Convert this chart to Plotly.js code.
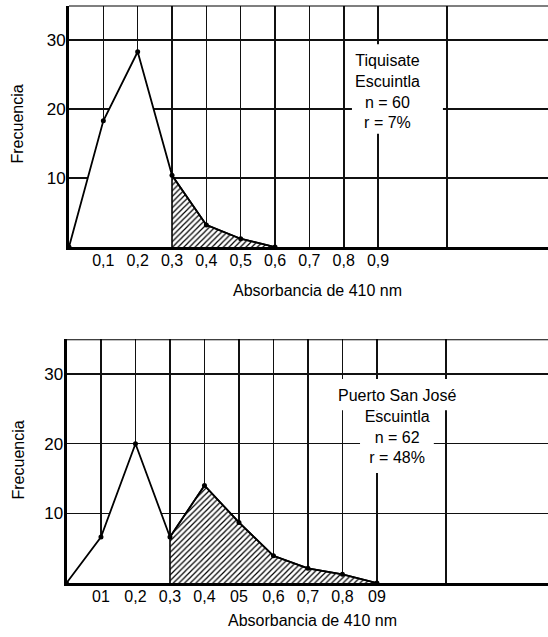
<!DOCTYPE html>
<html>
<head>
<meta charset="utf-8">
<script src="https://cdn.plot.ly/plotly-3.0.1.min.js"></script>
<style>html,body{margin:0;padding:0;background:#fff;}#chart{width:548px;height:637px;}</style>
</head>
<body>
<div id="chart"></div>
<script>
// ---- data ----
const absorbTop = [0, 0.1, 0.2, 0.3, 0.4, 0.5, 0.6];
const freqTop = [0, 18.3, 28.3, 10.4, 3.2, 1.2, 0];
const absorbBottom = [0, 0.1, 0.2, 0.3, 0.4, 0.5, 0.6, 0.7, 0.8, 0.9];
const freqBottom = [0, 6.6, 20, 6.6, 14, 8.7, 3.9, 2.1, 1.25, 0];
const hatchFrom = 0.3;
const xTickVals = [0.1, 0.2, 0.3, 0.4, 0.5, 0.6, 0.7, 0.8, 0.9, 1.1];
const xTickTextTop = ['0,1', '0,2', '0,3', '0,4', '0,5', '0,6', '0,7', '0,8', '0,9', ''];
const xTickTextBottom = ['01', '0,2', '0,3', '0,4', '05', '0,6', '0,7', '0,8', '09', ''];
const yTickVals = [10, 20, 30];
const yTickText = ['10', '20', '30'];
const xTitle = 'Absorbancia de 410 nm';
const yTitle = 'Frecuencia';
const labelTop = ['Tiquisate', 'Escuintla', 'n = 60', 'r = 7%'];
const labelBottom = ['Puerto San José', 'Escuintla', 'n = 62', 'r = 48%'];

const FONT = "'Liberation Sans', Arial, sans-serif";
const W = 548, H = 637;

function hatchPart(xs, ys) {
  const hx = [hatchFrom], hy = [0];
  xs.forEach((v, i) => { if (v >= hatchFrom - 1e-9) { hx.push(v); hy.push(ys[i]); } });
  return {x: hx, y: hy};
}

function tracesFor(xs, ys, xa, ya) {
  const h = hatchPart(xs, ys);
  return [
    {x: xs, y: ys, xaxis: xa, yaxis: ya, type: 'scatter', mode: 'lines',
     line: {width: 0, color: 'rgba(0,0,0,0)'}, fill: 'tozeroy', fillcolor: '#ffffff', hoverinfo: 'skip'},
    {x: h.x, y: h.y, xaxis: xa, yaxis: ya, type: 'scatter', mode: 'lines',
     line: {width: 1.6, color: '#000'}, fill: 'toself', fillcolor: '#ffffff',
     fillpattern: {shape: '/', fgcolor: '#000', bgcolor: '#fff', size: 4, solidity: 0.3}, hoverinfo: 'skip'},
    {x: xs, y: ys, xaxis: xa, yaxis: ya, type: 'scatter', mode: 'lines+markers',
     line: {width: 1.8, color: '#000'}, marker: {size: 5, color: '#000'}}
  ];
}

const data = [].concat(
  tracesFor(absorbTop, freqTop, 'x', 'y'),
  tracesFor(absorbBottom, freqBottom, 'x2', 'y2')
);

function xAxis(domainLeftPx, rangeMax, ticktext) {
  return {
    domain: [domainLeftPx / W, 1], range: [0, rangeMax],
    tickmode: 'array', tickvals: xTickVals, ticktext: ticktext,
    showgrid: true, gridcolor: '#111', gridwidth: 1.6,
    showline: true, linecolor: '#000', linewidth: 3,
    zeroline: false, ticks: '', ticklabelstandoff: -3,
    tickfont: {family: FONT, size: 16, color: '#000'}, fixedrange: true
  };
}
function yAxis(bottomPx, topPx) {
  return {
    domain: [1 - bottomPx / H, 1 - topPx / H], range: [0, 35],
    tickmode: 'array', tickvals: yTickVals, ticktext: yTickText,
    showgrid: true, gridcolor: '#111', gridwidth: 1.6,
    showline: true, linecolor: '#000', linewidth: 3,
    zeroline: false, ticks: '', ticklabelstandoff: -3,
    tickfont: {family: FONT, size: 17, color: '#000'}, fixedrange: true
  };
}

const textFont = {family: FONT, size: 16, color: '#000'};

const layout = {
  width: W, height: H, autosize: false,
  margin: {l: 0, r: 0, t: 0, b: 0, pad: 0},
  paper_bgcolor: '#fff', plot_bgcolor: '#fff',
  showlegend: false,
  xaxis: xAxis(69, 1.395, xTickTextTop),
  yaxis: yAxis(247, 5.5),
  xaxis2: Object.assign(xAxis(66.5, 1.396, xTickTextBottom), {anchor: 'y2'}),
  yaxis2: Object.assign(yAxis(583, 339.2), {anchor: 'x2'}),
  shapes: [
    {type: 'line', xref: 'x domain', yref: 'y', x0: 0, x1: 1, y0: 35, y1: 35, line: {color: '#000', width: 2}},
    {type: 'line', xref: 'x2 domain', yref: 'y2', x0: 0, x1: 1, y0: 35, y1: 35, line: {color: '#000', width: 2}},
    {type: 'rect', xref: 'x', yref: 'y', x0: 0.824, x1: 1.089, y0: 16.4, y1: 29.4, fillcolor: '#fff', line: {width: 0}, layer: 'above'},
    {type: 'rect', xref: 'x2', yref: 'y2', x0: 0.781, x1: 1.135, y0: 24.8, y1: 29.3, fillcolor: '#fff', line: {width: 0}, layer: 'above'},
    {type: 'rect', xref: 'x2', yref: 'y2', x0: 0.851, x1: 1.065, y0: 15.8, y1: 24.8, fillcolor: '#fff', line: {width: 0}, layer: 'above'}
  ],
  annotations: [
    {xref: 'x', yref: 'y', x: 0.929, y: 22.5, xanchor: 'center', yanchor: 'middle', text: labelTop.join('<br>'), showarrow: false, font: textFont, align: 'center'},
    {xref: 'x2', yref: 'y2', x: 0.957, y: 22.5, xanchor: 'center', yanchor: 'middle', text: labelBottom.join('<br>'), showarrow: false, font: textFont, align: 'center'},
    {xref: 'paper', yref: 'paper', x: 317 / W, y: 1 - 290 / H, xanchor: 'center', yanchor: 'middle', text: xTitle, showarrow: false, font: textFont},
    {xref: 'paper', yref: 'paper', x: 312 / W, y: 1 - 620 / H, xanchor: 'center', yanchor: 'middle', text: xTitle, showarrow: false, font: textFont},
    {xref: 'paper', yref: 'paper', x: 17.5 / W, y: 1 - 124 / H, xanchor: 'center', yanchor: 'middle', text: yTitle, textangle: -90, showarrow: false, font: textFont},
    {xref: 'paper', yref: 'paper', x: 17.5 / W, y: 1 - 460 / H, xanchor: 'center', yanchor: 'middle', text: yTitle, textangle: -90, showarrow: false, font: textFont}
  ]
};

Plotly.newPlot('chart', data, layout, {displayModeBar: false, staticPlot: true});
</script>
</body>
</html>
